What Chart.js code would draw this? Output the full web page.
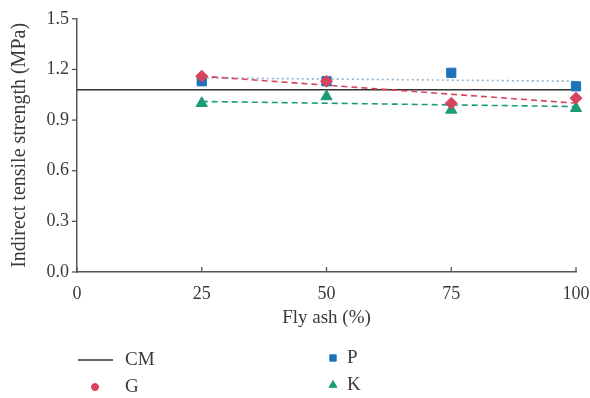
<!DOCTYPE html>
<html>
<head>
<meta charset="utf-8">
<script src="https://cdn.jsdelivr.net/npm/chart.js@4/dist/chart.umd.min.js"></script>
<style>
html,body{margin:0;padding:0;background:#fff;}
#wrap{width:590px;height:398px;position:relative;}
</style>
</head>
<body>
<div id="wrap"><canvas id="c" width="590" height="398"></canvas></div>
<script>
// ---- data ----
const flyAsh = [25, 50, 75, 100];
const seriesG = [1.16, 1.13, 1.00, 1.03];
const seriesP = [1.13, 1.13, 1.18, 1.10];
const seriesK = [1.00, 1.04, 0.96, 0.97];
const cmX = [0, 100];
const cmY = [1.08, 1.08];
const trendX = [25, 100];
const trendG = [1.16, 1.00];
const trendP = [1.15, 1.13];
const trendK = [1.01, 0.98];
const xTicks = [0, 25, 50, 75, 100];
const yTicks = [0.0, 0.3, 0.6, 0.9, 1.2, 1.5];

const RED = '#d8435e', BLUE = '#1b74bb', GREEN = '#1b9c78', TXT = '#3a3a3a', AX = '#555';
const FONT = '"Liberation Serif", "Times New Roman", serif';

const pts = (xs, ys) => xs.map((x, i) => ({x, y: ys[i]}));

const legendItems = [
  {label: 'CM', type: 'line', color: '#333', x: 78, y: 360, tx: 125},
  {label: 'G', type: 'circle', color: RED, x: 95, y: 387, tx: 125},
  {label: 'P', type: 'rect', color: BLUE, x: 333, y: 358, tx: 347},
  {label: 'K', type: 'triangle', color: GREEN, x: 333, y: 385, tx: 347}
];

const extras = {
  id: 'extras',
  afterDraw(chart) {
    const ctx = chart.ctx;
    const xs = chart.scales.x, ys = chart.scales.y;
    ctx.save();
    ctx.strokeStyle = AX; ctx.lineWidth = 1.3;
    // x ticks (inward)
    xTicks.forEach(v => {
      const px = xs.getPixelForValue(v);
      ctx.beginPath(); ctx.moveTo(px, ys.bottom); ctx.lineTo(px, ys.bottom - 5); ctx.stroke();
    });
    // y ticks (outward)
    yTicks.forEach(v => {
      const py = ys.getPixelForValue(v);
      ctx.beginPath(); ctx.moveTo(xs.left, py); ctx.lineTo(xs.left - 5, py); ctx.stroke();
    });
    // legend
    ctx.font = '19px ' + FONT;
    ctx.textBaseline = 'middle';
    ctx.fillStyle = TXT;
    legendItems.forEach(it => {
      if (it.type === 'line') {
        ctx.strokeStyle = it.color; ctx.lineWidth = 1.5;
        ctx.beginPath(); ctx.moveTo(it.x, it.y); ctx.lineTo(it.x + 35, it.y); ctx.stroke();
      } else {
        ctx.fillStyle = it.color; ctx.strokeStyle = it.color; ctx.lineWidth = 1;
        Chart.helpers.drawPoint(ctx, {pointStyle: it.type, radius: it.type === 'circle' ? 3.5 : 4.5, borderWidth: 1}, it.x, it.y);
      }
      ctx.fillStyle = TXT;
      ctx.fillText(it.label, it.tx, it.y);
    });
    ctx.restore();
  }
};

new Chart(document.getElementById('c'), {
  type: 'scatter',
  data: {
    datasets: [
      {label: 'G', data: pts(flyAsh, seriesG), pointStyle: 'rectRot', pointRadius: 6, backgroundColor: RED, borderColor: RED, showLine: false, clip: false},
      {label: 'P', data: pts(flyAsh, seriesP), pointStyle: 'rect', pointRadius: 6.5, backgroundColor: BLUE, borderColor: BLUE, showLine: false, clip: false},
      {label: 'K', data: pts(flyAsh, seriesK), pointStyle: 'triangle', pointRadius: 6.5, backgroundColor: GREEN, borderColor: GREEN, showLine: false, clip: false},
      {label: 'G trend', data: pts(trendX, trendG), showLine: true, pointRadius: 0, borderColor: RED, borderWidth: 1.6, borderDash: [6, 4]},
      {label: 'P trend', data: pts(trendX, trendP), showLine: true, pointRadius: 0, borderColor: '#8fb3cc', borderWidth: 1.6, borderDash: [2, 3]},
      {label: 'K trend', data: pts(trendX, trendK), showLine: true, pointRadius: 0, borderColor: GREEN, borderWidth: 1.6, borderDash: [6, 4]},
      {label: 'CM', data: pts(cmX, cmY), showLine: true, pointRadius: 0, borderColor: '#333', borderWidth: 1.6}
    ]
  },
  options: {
    responsive: false,
    animation: false,
    events: [],
    layout: {padding: {left: 0, right: 14, top: 18, bottom: 69}},
    plugins: {legend: {display: false}, tooltip: {enabled: false}},
    scales: {
      x: {
        type: 'linear', min: 0, max: 100,
        afterBuildTicks: s => { s.ticks = xTicks.map(v => ({value: v})); },
        afterFit: s => { s.height = 57; s.paddingRight = 0; s.paddingLeft = 0; },
        border: {color: AX, width: 1.5},
        grid: {drawOnChartArea: false, drawTicks: false},
        ticks: {color: TXT, font: {family: FONT, size: 18}, padding: 11, maxRotation: 0,
          callback: v => String(v)},
        title: {display: true, text: 'Fly ash (%)', color: TXT, font: {family: FONT, size: 19}, padding: 0}
      },
      y: {
        type: 'linear', min: 0, max: 1.5,
        afterBuildTicks: s => { s.ticks = yTicks.map(v => ({value: v})); },
        afterFit: s => { s.width = 77; },
        border: {color: AX, width: 1.5},
        grid: {drawOnChartArea: false, drawTicks: false},
        ticks: {color: TXT, font: {family: FONT, size: 18}, padding: 8,
          callback: v => Number(v).toFixed(1)},
        title: {display: true, text: 'Indirect tensile strength (MPa)', color: TXT, font: {family: FONT, size: 20}, padding: {top: 8, bottom: 2}}
      }
    }
  },
  plugins: [extras]
});
</script>
</body>
</html>
